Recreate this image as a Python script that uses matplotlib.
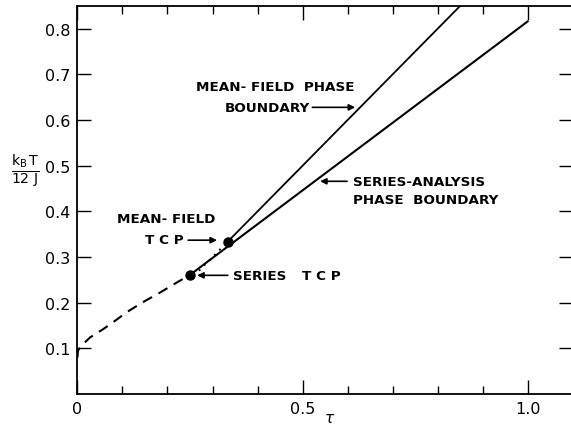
"""Tricritical phase diagram: mean-field vs series-analysis boundaries."""

import matplotlib
matplotlib.use("Agg")
import matplotlib.pyplot as plt
from matplotlib.ticker import MultipleLocator

# mean-field second-order line kT/12J = tau above its TCP
mf_tau = [1 / 3, 0.85]
mf_temp = [1 / 3, 0.85]
mf_tcp = (1 / 3, 1 / 3)

# short dotted continuation of the mean-field line below its TCP
mf_low_tau = [0.27, 1 / 3]
mf_low_temp = [0.27, 1 / 3]

# series-analysis second-order line
series_tau = [0.25, 1.0]
series_temp = [0.261, 0.816]
series_tcp = (0.25, 0.261)

# first-order (dashed) boundary below the series TCP
first_tau = [0.0, 0.001, 0.009, 0.028, 0.057, 0.083, 0.109, 0.145, 0.183, 0.215, 0.25]
first_temp = [0.08, 0.095, 0.106, 0.124, 0.142, 0.160, 0.179, 0.201, 0.222, 0.241, 0.261]

x_ticks = [0, 0.5, 1.0]
x_tick_labels = ["0", "0.5", "1.0"]
y_ticks = [0.1, 0.2, 0.3, 0.4, 0.5, 0.6, 0.7, 0.8]
y_tick_labels = ["0.1", "0.2", "0.3", "0.4", "0.5", "0.6", "0.7", "0.8"]

plt.rcParams["font.family"] = "DejaVu Sans"
plt.rcParams["mathtext.fontset"] = "dejavusans"

fig = plt.figure(figsize=(5.71, 4.27), dpi=100)
ax = fig.add_axes([0.1357, 0.0749, 0.867, 0.9087])

ink = "black"
ax.plot(mf_tau, mf_temp, color=ink, lw=1.3)
ax.plot(mf_low_tau, mf_low_temp, color=ink, lw=1.3, ls=(0, (1, 3)))
ax.plot(series_tau, series_temp, color=ink, lw=1.5)
ax.plot(first_tau, first_temp, color=ink, lw=1.5, ls=(0, (5, 3.5)))
ax.plot(*mf_tcp, "o", color=ink, ms=6.5)
ax.plot(*series_tcp, "o", color=ink, ms=6.5)

ax.set_xlim(0, 1.1)
ax.set_ylim(0, 0.85)
ax.set_xticks(x_ticks)
ax.set_xticklabels(x_tick_labels)
ax.set_yticks(y_ticks)
ax.set_yticklabels(y_tick_labels)
ax.xaxis.set_minor_locator(MultipleLocator(0.1))
ax.tick_params(axis="both", which="major", direction="in", length=10,
               width=1.0, labelsize=11.5, top=True, right=True, pad=5)
ax.tick_params(axis="x", which="minor", direction="in", length=6,
               width=1.0, top=True)
for spine in ax.spines.values():
    spine.set_linewidth(1.3)

# axis titles placed by hand so the tau stays inside the frame
fig.text(0.578, 0.02, r"$\tau$", fontsize=11, ha="center", va="center")
ax.text(-0.106, 0.575, r"$\frac{\mathrm{k_B\,T}}{\mathrm{12\ J}}$", fontsize=14.5,
        ha="center", va="center", transform=ax.transAxes)

lab = dict(fontsize=9.7, fontweight="bold", color=ink)
arrow = dict(arrowstyle="-|>", color=ink, lw=1.2, mutation_scale=9,
             shrinkA=0, shrinkB=0)

ax.text(0.439, 0.674, "MEAN- FIELD  PHASE", ha="center", va="center", **lab)
ax.text(0.516, 0.628, "BOUNDARY", ha="right", va="center", **lab)
ax.annotate("", xy=(0.617, 0.628), xytext=(0.522, 0.628), arrowprops=arrow)

ax.text(0.612, 0.466, "SERIES-ANALYSIS", ha="left", va="center", **lab)
ax.text(0.612, 0.427, "PHASE  BOUNDARY", ha="left", va="center", **lab)
ax.annotate("", xy=(0.539, 0.466), xytext=(0.599, 0.466), arrowprops=arrow)

ax.text(0.196, 0.385, "MEAN- FIELD", ha="center", va="center", **lab)
ax.text(0.193, 0.339, "T C P", ha="center", va="center", **lab)
ax.annotate("", xy=(0.31, 0.337), xytext=(0.246, 0.337), arrowprops=arrow)

ax.text(0.346, 0.26, "SERIES", ha="left", va="center", **lab)
ax.text(0.499, 0.26, "T C P", ha="left", va="center", **lab)
ax.annotate("", xy=(0.266, 0.26), xytext=(0.334, 0.26), arrowprops=arrow)

fig.savefig("out.png", dpi=100)
